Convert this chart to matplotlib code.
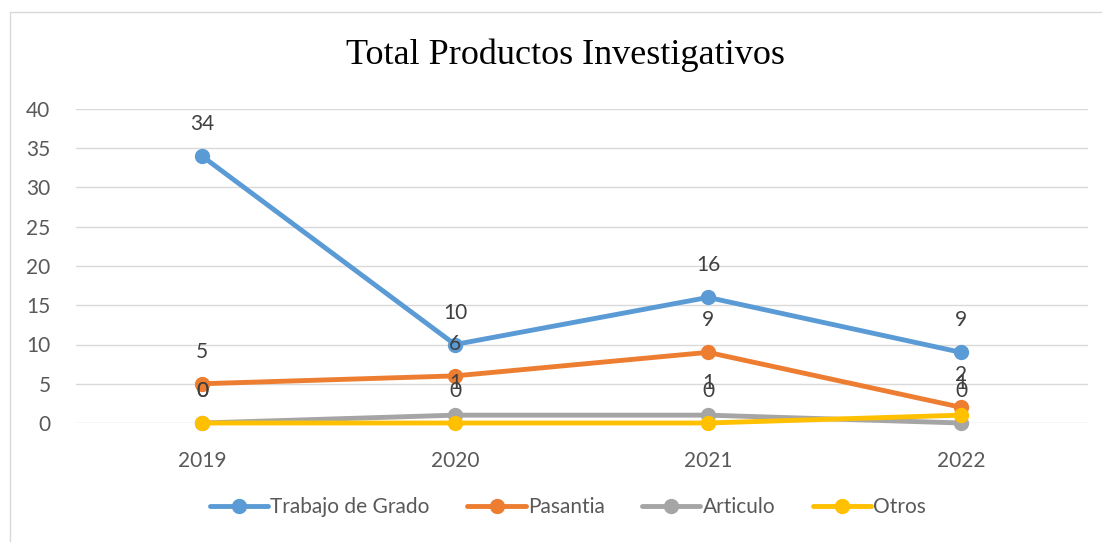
import matplotlib.pyplot as plt
from matplotlib.patches import Rectangle

years = ['2019', '2020', '2021', '2022']
trabajo = [34, 10, 16, 9]
pasantia = [5, 6, 9, 2]
articulo = [0, 1, 1, 0]
otros = [0, 0, 0, 1]

series = [
    ('Trabajo de Grado', trabajo, '#5B9BD5'),
    ('Pasantia', pasantia, '#ED7D31'),
    ('Articulo', articulo, '#A5A5A5'),
    ('Otros', otros, '#FFC000'),
]

plt.rcParams['font.family'] = ['Lato', 'DejaVu Sans']

fig = plt.figure(figsize=(11.02, 5.42), dpi=100)
fig.patches.append(Rectangle((10 / 1102, -0.1), 1.2, 1 - 12 / 542 + 0.1,
                             transform=fig.transFigure, fill=False,
                             edgecolor='#D9D9D9', linewidth=1))

ax = fig.add_axes([75.5 / 1102, 119 / 542, 1012 / 1102, 314 / 542])
x = list(range(len(years)))

for name, vals, color in series:
    ax.plot(x, vals, color=color, linewidth=3.5, marker='o', markersize=10,
            label=name, solid_capstyle='round', clip_on=False)
    for xi, v in zip(x, vals):
        ax.annotate(str(v), (xi, v), xytext=(0, 23), textcoords='offset points',
                    ha='center', va='center', fontsize=15, color='#404040')

ax.set_xlim(-0.5, 3.5)
ax.set_ylim(0, 40)
ax.set_yticks(range(0, 41, 5))
ax.set_xticks(x)
ax.set_xticklabels(years)
ax.grid(axis='y', color='#D9D9D9', linewidth=1)
ax.set_axisbelow(True)
for s in ax.spines.values():
    s.set_visible(False)
ax.tick_params(length=0, labelsize=15, labelcolor='#595959')
ax.tick_params(axis='x', pad=20)
ax.tick_params(axis='y', pad=18)

fig.text(565 / 1102, 1 - 55 / 542, 'Total Productos Investigativos',
         ha='center', va='center', fontsize=26, family='Liberation Serif')

fig.legend(loc='center', bbox_to_anchor=(568 / 1102, 1 - 507 / 542), ncol=4,
           frameon=False, fontsize=15, handlelength=2.8, columnspacing=1.8,
           handletextpad=0.1, labelcolor='#595959')

fig.savefig('out.png', dpi=100)
